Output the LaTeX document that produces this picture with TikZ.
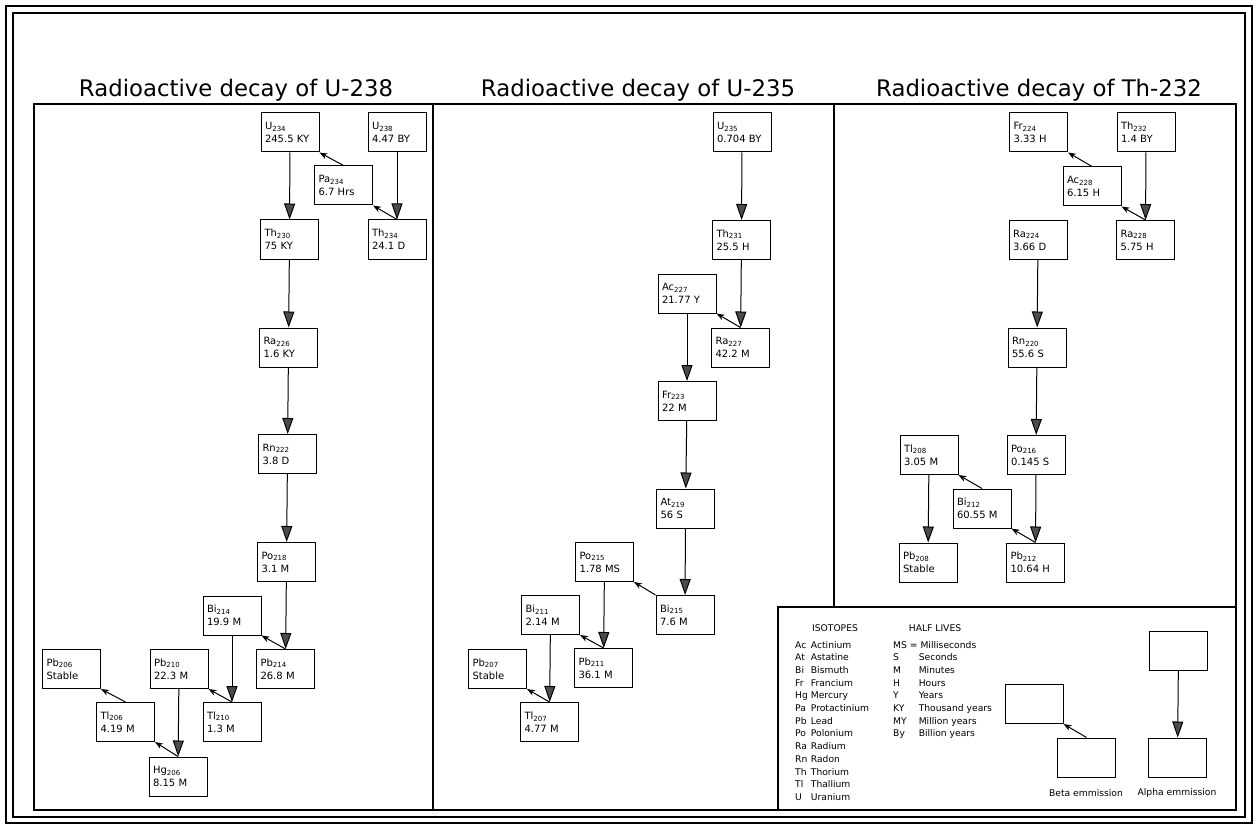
\documentclass[tikz,border=0pt]{standalone}
\usepackage{fontspec}
\setmainfont{DejaVu Sans}
\usepackage{tikz}
\usetikzlibrary{arrows.meta, positioning}
\tikzstyle{block} = [rectangle, draw=black, line width=1pt, minimum width=58pt, minimum height=39pt, text width=50pt, inner xsep=4pt, inner ysep=2pt, align=left, font=\fontsize{10}{13}\selectfont]
\tikzstyle{aarrow} = [line width=1pt, -{Triangle[width=11pt, length=16pt, fill=black!70]}]
\tikzstyle{barrow} = [line width=1pt, -{Stealth[width=6pt, length=8pt]}]
\tikzstyle{title} = [anchor=base, inner sep=0pt, font=\fontsize{22.8}{27}\selectfont]
\tikzstyle{legend} = [inner sep=0pt, font=\fontsize{9.2}{12.7}\selectfont]

\begin{document}
\begin{tikzpicture}[x=1pt, y=-1pt]
    \useasboundingbox[fill=white] (0,0) rectangle (1257,826);
    % frames
    \draw[line width=1.3pt] (6,6) rectangle (1252,823);
    \draw[line width=1.3pt] (13,13) rectangle (1245,817);
    \draw[line width=1.1pt] (34,104) rectangle (1236,810);
    \draw[line width=1.1pt] (433,104) -- (433,810);
    \draw[line width=1.1pt] (834,104) -- (834,607);
    \draw[line width=1.1pt] (778,810) -- (778,607) -- (1236,607);

    \node[title] (t238) at (236,97) {Radioactive decay of U-238};
    \node[title] (t235) at (638,97) {Radioactive decay of U-235};
    \node[title] (t232) at (1039,97) {Radioactive decay of Th-232};

    % U-238
    \node[block] (u234) at (290,132.5) {U\textsubscript{234}\\245.5 KY};
    \node[block] (u238) at (397,132.5) {U\textsubscript{238}\\4.47 BY};
    \node[block] (pa234) at (343.5,185.5) {Pa\textsubscript{234}\\6.7 Hrs};
    \node[block] (th230) at (289.5,239.5) {Th\textsubscript{230}\\75 KY};
    \node[block] (th234) at (397,239.5) {Th\textsubscript{234}\\24.1 D};
    \node[block] (ra226) at (288.5,347.5) {Ra\textsubscript{226}\\1.6 KY};
    \node[block] (rn222) at (287.5,454) {Rn\textsubscript{222}\\3.8 D};
    \node[block] (po218) at (286.5,562) {Po\textsubscript{218}\\3.1 M};
    \node[block] (bi214) at (232,615.5) {Bi\textsubscript{214}\\19.9 M};
    \node[block] (pb214) at (285.5,669) {Pb\textsubscript{214}\\26.8 M};
    \node[block] (pb210) at (179,669) {Pb\textsubscript{210}\\22.3 M};
    \node[block] (tl210) at (232,722) {Tl\textsubscript{210}\\1.3 M};
    \node[block] (tl206) at (125.5,722) {Tl\textsubscript{206}\\4.19 M};
    \node[block] (hg206) at (178,776.5) {Hg\textsubscript{206}\\8.15 M};
    \node[block] (pb206) at (71.5,669) {Pb\textsubscript{206}\\Stable};

    \draw[aarrow] (u234) -- (th230);
    \draw[aarrow] (u238) -- (th234);
    \draw[barrow] (th234.north) -- (pa234.south east);
    \draw[barrow] (pa234.north) -- (u234.south east);
    \draw[aarrow] (th230) -- (ra226);
    \draw[aarrow] (ra226) -- (rn222);
    \draw[aarrow] (rn222) -- (po218);
    \draw[aarrow] (po218) -- (pb214);
    \draw[barrow] (pb214.north) -- (bi214.south east);
    \draw[aarrow] (bi214) -- (tl210);
    \draw[barrow] (tl210.north) -- (pb210.south east);
    \draw[aarrow] (pb210) -- (hg206);
    \draw[barrow] (hg206.north) -- (tl206.south east);
    \draw[barrow] (tl206.north) -- (pb206.south east);

    % U-235
    \node[block] (u235) at (742,132.5) {U\textsubscript{235}\\0.704 BY};
    \node[block] (th231) at (741.5,240) {Th\textsubscript{231}\\25.5 H};
    \node[block] (ac227) at (687,293.5) {Ac\textsubscript{227}\\21.77 Y};
    \node[block] (ra227) at (740.5,347.5) {Ra\textsubscript{227}\\42.2 M};
    \node[block] (fr223) at (687,401) {Fr\textsubscript{223}\\22 M};
    \node[block] (at219) at (685.5,508.5) {At\textsubscript{219}\\56 S};
    \node[block] (bi215) at (685,615) {Bi\textsubscript{215}\\7.6 M};
    \node[block] (po215) at (604.5,562) {Po\textsubscript{215}\\1.78 MS};
    \node[block] (pb211) at (603.5,668) {Pb\textsubscript{211}\\36.1 M};
    \node[block] (bi211) at (550.5,615) {Bi\textsubscript{211}\\2.14 M};
    \node[block] (tl207) at (549.5,722) {Tl\textsubscript{207}\\4.77 M};
    \node[block] (pb207) at (497.5,669) {Pb\textsubscript{207}\\Stable};

    \draw[aarrow] (u235) -- (th231);
    \draw[aarrow] (th231) -- (ra227);
    \draw[barrow] (ra227.north) -- (ac227.south east);
    \draw[aarrow] (ac227) -- (fr223);
    \draw[aarrow] (fr223) -- (at219);
    \draw[aarrow] (at219) -- (bi215);
    \draw[barrow] (bi215.north west) -- (po215.south east);
    \draw[aarrow] (po215) -- (pb211);
    \draw[barrow] (pb211.north) -- (bi211.south east);
    \draw[aarrow] (bi211) -- (tl207);
    \draw[barrow] (tl207.north) -- (pb207.south east);

    % Th-232
    \node[block] (fr224) at (1038.5,132.5) {Fr\textsubscript{224}\\3.33 H};
    \node[block] (th232) at (1146,132.5) {Th\textsubscript{232}\\1.4 BY};
    \node[block] (ac228) at (1092,186.5) {Ac\textsubscript{228}\\6.15 H};
    \node[block] (ra228) at (1145.5,240) {Ra\textsubscript{228}\\5.75 H};
    \node[block] (ra224) at (1038,240) {Ra\textsubscript{224}\\3.66 D};
    \node[block] (rn220) at (1037,347.5) {Rn\textsubscript{220}\\55.6 S};
    \node[block] (po216) at (1036,455) {Po\textsubscript{216}\\0.145 S};
    \node[block] (tl208) at (929,455) {Tl\textsubscript{208}\\3.05 M};
    \node[block] (bi212) at (982,508.5) {Bi\textsubscript{212}\\60.55 M};
    \node[block] (pb212) at (1035.5,562.5) {Pb\textsubscript{212}\\10.64 H};
    \node[block] (pb208) at (928,562.5) {Pb\textsubscript{208}\\Stable};

    \draw[aarrow] (th232) -- (ra228);
    \draw[barrow] (ra228.north) -- (ac228.south east);
    \draw[barrow] (ac228.north) -- (fr224.south east);
    \draw[aarrow] (ra224) -- (rn220);
    \draw[aarrow] (rn220) -- (po216);
    \draw[aarrow] (po216) -- (pb212);
    \draw[barrow] (pb212.north) -- (bi212.south east);
    \draw[barrow] (bi212.north) -- (tl208.south east);
    \draw[aarrow] (tl208) -- (pb208);

    % legend
    \node[legend] (isohead) at (835,628) {ISOTOPES};
    \node[legend] (halfhead) at (935,628) {HALF LIVES};
    \node[legend, anchor=north west] (isolist) at (795,639) {\begin{tabular}{@{}l@{\ }l@{}}
        Ac & Actinium\\ At & Astatine\\ Bi & Bismuth\\ Fr & Francium\\
        Hg & Mercury\\ Pa & Protactinium\\ Pb & Lead\\ Po & Polonium\\
        Ra & Radium\\ Rn & Radon\\ Th & Thorium\\ Tl & Thallium\\ U & Uranium
    \end{tabular}};
    \node[legend, anchor=north west] (halflist) at (893,639) {\begin{tabular}{@{}l@{\hspace{12pt}}l@{}}
        \multicolumn{2}{@{}l@{}}{MS = Milliseconds}\\ S & Seconds\\ M & Minutes\\ H & Hours\\
        Y & Years\\ KY & Thousand years\\ MY & Million years\\ By & Billion years
    \end{tabular}};

    \node[block] (betatop) at (1034,704) {};
    \node[block] (betabot) at (1086.5,757.5) {};
    \node[block] (alphatop) at (1178.5,651) {};
    \node[block] (alphabot) at (1177.5,757.5) {};
    \draw[barrow] (betabot.north) -- (betatop.south east);
    \draw[aarrow] (alphatop) -- (alphabot);
    \node[legend] (betalbl) at (1086,793) {Beta emmission};
    \node[legend] (alphalbl) at (1177,793) {Alpha emmission};
\end{tikzpicture}
\end{document}
